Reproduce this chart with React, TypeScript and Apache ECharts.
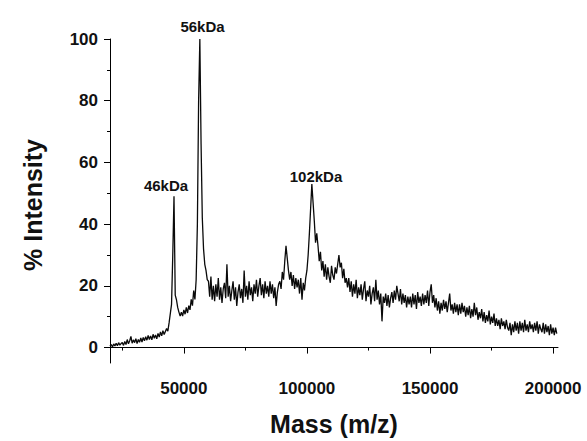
import React, { useEffect, useRef } from "react";
import * as echarts from "echarts";

const MASS_STEP = 500;

const lowRiseStart = 20000; // 20000 - 44500
const lowRise = [
  0.5, 1.0, 0.2, 1.2, 0.5, 1.4, 0.6, 1.6, 0.8, 1.3,
  1.6, 0.7, 2.0, 1.0, 2.6, 1.2, 2.2, 3.6, 1.4, 2.5,
  1.6, 2.9, 1.3, 2.6, 1.7, 3.1, 1.8, 3.3, 2.2, 3.5,
  2.4, 3.9, 2.6, 3.8, 2.5, 4.3, 3.0, 4.1, 2.8, 4.6,
  3.4, 5.1, 3.8, 5.5, 4.2, 5.2, 6.2, 5.3, 8.0, 11.0,
];

const mainPeaksStart = 45000; // 45000 - 59500
const mainPeaks = [
  14, 30, 49, 17, 15.5, 13, 11.5, 10.2, 11.5, 10.2,
  12.2, 10.8, 13, 11.2, 13.6, 12.2, 15.6, 13.6, 18.5, 15.6,
  22, 40, 80, 100, 66, 42, 32, 27, 25, 22,
];

const plateauStart = 60000; // 60000 - 87500
const plateau = [
  21.5, 16.5, 23, 15.5, 20, 15, 20.5, 16.5, 22.5, 15.5,
  19.5, 14.5, 19, 21, 16, 27, 16.5, 20, 15, 18.5,
  21.5, 15.5, 19.5, 13.5, 18, 20.5, 16, 19, 14.5, 25,
  16.5, 20, 15.5, 21.5, 17, 19.5, 15, 20.5, 17.5, 22,
  16.5, 20, 22.5, 17, 20.5, 16, 21.5, 17.5, 20, 16.5,
  21.5, 17.5, 20.5, 16, 19.5, 13.5,
];

const dimerStart = 88000; // 88000 - 116500
const dimer = [
  18, 20.5, 21.5, 19, 24.5, 22, 28, 33, 29, 25,
  22, 24.5, 20, 23.5, 19, 22.5, 19.5, 22, 17.5, 22.5,
  15.5, 21, 18.5, 22.5, 25, 30, 37, 45,
  53, 47, 41, 34, 37, 33, 28, 31, 25, 28,
  23, 27, 22, 26, 23, 21, 26.5, 23.5, 22, 26,
  24, 27, 30, 26, 27.5, 22.5, 25.5, 21, 22.5, 19.5,
];

const tailMidStart = 117000; // 117000 - 141500
const tailMid = [
  22.5, 18, 21.5, 16.5, 20.5, 17.5, 22, 16, 19.5, 17,
  20.5, 15.5, 19, 21.5, 15, 18.5, 16.5, 20, 14, 17.5,
  19.5, 15, 22, 15.5, 18.5, 14, 17.5, 8.5, 16.5, 14.5,
  17.5, 13.5, 17, 13, 16, 18, 14.5, 18.5, 15.5, 20,
  17.5, 15, 19, 14, 17.5, 14.5, 17, 13, 16.5, 14,
];

const tailEndStart = 142000; // 142000 - 201500
const tailEnd = [
  16.5, 13, 17.5, 14, 17, 12.5, 18, 14.5, 16.5, 13.5,
  17.5, 14, 17, 14.5, 18.5, 13.5, 18, 20.5, 14.5, 17,
  13, 16, 12, 15, 11, 14.5, 12, 15.5, 12.5, 15,
  11.5, 14.5, 17.5, 12, 14, 11, 14.5, 11.5, 14, 10.5,
  14, 11, 14.5, 11.5, 13.5, 10, 13, 10.5, 13.5, 9.5,
  12.5, 10, 14.5, 10.5, 13, 9, 11.5, 9.5, 12.5, 8.5,
  11.5, 8, 10.5, 8.5, 12, 7.5, 10, 8, 11, 7,
  9.5, 7, 9, 6, 9.5, 7, 8.5, 6, 9, 6.5,
  5.5, 8, 4, 7.5, 5, 8.5, 5.5, 8, 4.5, 8.5,
  5.5, 8, 5, 9, 5.5, 7.5, 5, 8.5, 6, 7.5,
  5, 8, 5.5, 8.5, 4.5, 7.5, 6, 5, 8, 4.5,
  7.5, 5, 7, 4, 7.5, 4.5, 6.5, 4, 6.5, 4.5,
];

// peak annotations
const peakLabels = ["46kDa", "56kDa", "102kDa"];
const peakLabelMass = [42750, 57570, 103670];
const peakLabelIntensity = [52.5, 104, 55.5];

// axes
const xMajorTicks = [50000, 100000, 150000, 200000];
const xMinorTicks = [25000, 75000, 125000, 175000];
const yMajorTicks = [0, 20, 40, 60, 80, 100];
const yMinorTicks = [10, 30, 50, 70, 90];

const FONT = "'Liberation Sans', Arial, Helvetica, sans-serif";
const INK = "#000000";

export default function App() {
  const ref = useRef<HTMLDivElement>(null);

  useEffect(() => {
    if (!ref.current) return;
    const chart = echarts.init(ref.current, undefined, { renderer: "svg" });

    const segments: [number, number[]][] = [
      [lowRiseStart, lowRise],
      [mainPeaksStart, mainPeaks],
      [plateauStart, plateau],
      [dimerStart, dimer],
      [tailMidStart, tailMid],
      [tailEndStart, tailEnd],
    ];
    const lineData = segments.flatMap(([start, vals]) =>
      vals.map((v, i) => [start + i * MASS_STEP, v])
    );
    const labelData = peakLabels.map((name, i) => ({
      name,
      value: [peakLabelMass[i], peakLabelIntensity[i]],
    }));

    const tickLabel = {
      fontFamily: FONT,
      fontWeight: "bold" as const,
      fontSize: 17,
      color: "#111111",
      formatter: (v: number) => String(v),
    };

    chart.setOption({
      animation: false,
      backgroundColor: "#ffffff",
      grid: { left: 110, right: 29, top: 39, bottom: 71, containLabel: false },
      xAxis: [
        {
          type: "value",
          min: 20000,
          max: 202000,
          gridIndex: 0,
          position: "bottom",
          axisLine: { show: true, lineStyle: { color: INK, width: 1 } },
          axisTick: {
            show: true,
            customValues: xMajorTicks,
            length: 6,
            lineStyle: { color: INK, width: 1 },
          },
          axisLabel: { ...tickLabel, customValues: xMajorTicks, margin: 17 },
          splitLine: { show: false },
          name: "Mass (m/z)",
          nameLocation: "middle",
          nameGap: 48,
          nameTextStyle: {
            fontFamily: FONT,
            fontWeight: "bold",
            fontSize: 25,
            color: "#111111",
          },
        },
        {
          type: "value",
          min: 20000,
          max: 202000,
          gridIndex: 0,
          position: "bottom",
          axisLine: { show: false },
          axisTick: {
            show: true,
            customValues: xMinorTicks,
            length: 3,
            lineStyle: { color: INK, width: 1 },
          },
          axisLabel: { show: false },
          splitLine: { show: false },
        },
      ],
      yAxis: [
        {
          type: "value",
          min: -5,
          max: 100,
          gridIndex: 0,
          position: "left",
          axisLine: { show: true, lineStyle: { color: INK, width: 1 } },
          axisTick: {
            show: true,
            customValues: yMajorTicks,
            length: 6,
            lineStyle: { color: INK, width: 1 },
          },
          axisLabel: { ...tickLabel, customValues: yMajorTicks, margin: 12 },
          splitLine: { show: false },
          name: "% Intensity",
          nameLocation: "middle",
          nameGap: 65,
          nameTextStyle: {
            fontFamily: FONT,
            fontWeight: "bold",
            fontSize: 25,
            color: "#111111",
            padding: [0, 8, 0, 0],
          },
        },
        {
          type: "value",
          min: -5,
          max: 100,
          gridIndex: 0,
          position: "left",
          axisLine: { show: false },
          axisTick: {
            show: true,
            customValues: yMinorTicks,
            length: 3,
            lineStyle: { color: INK, width: 1 },
          },
          axisLabel: { show: false },
          splitLine: { show: false },
        },
      ],
      series: [
        {
          type: "line",
          xAxisIndex: 0,
          yAxisIndex: 0,
          data: lineData,
          showSymbol: false,
          symbol: "none",
          lineStyle: { color: "#0a0a0a", width: 1.3 },
          silent: true,
        },
        {
          type: "scatter",
          xAxisIndex: 0,
          yAxisIndex: 0,
          data: labelData,
          symbolSize: 0,
          clip: false,
          silent: true,
          itemStyle: { color: "rgba(0,0,0,0)", opacity: 1 },
          label: {
            show: true,
            position: "inside",
            formatter: (p: any) => p.name,
            fontFamily: FONT,
            fontWeight: "bold",
            fontSize: 15,
            color: "#111111",
            opacity: 1,
            textBorderWidth: 0,
          },
        },
      ],
    });

    return () => chart.dispose();
  }, []);

  return (
    <div
      ref={ref}
      style={{ position: "fixed", left: 0, top: 0, width: 587, height: 441 }}
    />
  );
}
